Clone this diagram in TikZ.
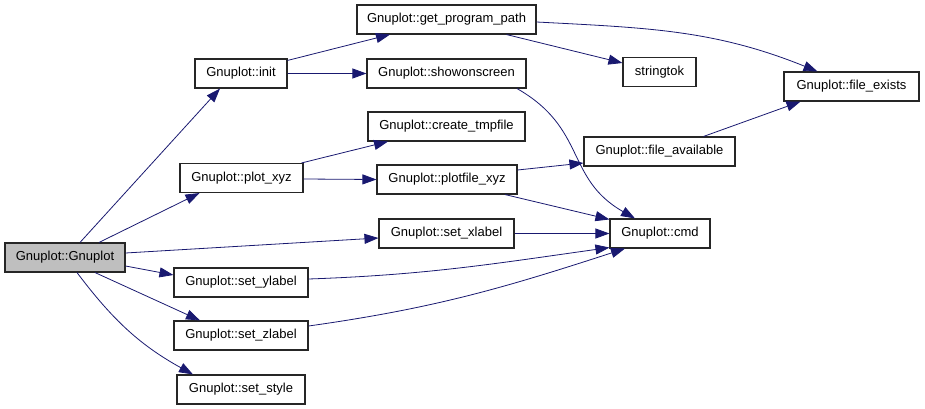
\documentclass[tikz,border=0pt]{standalone}
\usepackage{fontspec}
\setmainfont{Liberation Sans}
\usetikzlibrary{arrows.meta}

\definecolor{callblue}{HTML}{191970}
\definecolor{rootgray}{HTML}{BFBFBF}

\begin{document}
\begin{tikzpicture}[x=1pt,y=1pt,
    fnbox/.style={draw=black!85,line width=1.1pt,fill=white,inner sep=0pt,
        minimum height=29pt,font=\fontsize{13}{15}\selectfont},
    call/.style={callblue,line width=0.8pt,-{Triangle[length=14pt,width=10pt]}}]
\useasboundingbox (0,0) rectangle (925,-409);

% left column
\node[fnbox,fill=rootgray,minimum width=120pt] (gnuplot) at (65,-257.5) {Gnuplot::Gnuplot};
\node[fnbox,minimum width=92pt] (init) at (241,-73.5) {Gnuplot::init};
\node[fnbox,minimum width=123pt] (plotxyz) at (241.5,-178) {Gnuplot::plot\_xyz};
\node[fnbox,minimum width=134pt] (setylabel) at (241,-282.5) {Gnuplot::set\_ylabel};
\node[fnbox,minimum width=134pt] (setzlabel) at (241,-335.5) {Gnuplot::set\_zlabel};
\node[fnbox,minimum width=128pt] (setstyle) at (241,-389.5) {Gnuplot::set\_style};

% middle column
\node[fnbox,minimum width=179pt] (getpath) at (446.5,-19.5) {Gnuplot::get\_program\_path};
\node[fnbox,minimum width=159pt] (showon) at (446.5,-73.5) {Gnuplot::showonscreen};
\node[fnbox,minimum width=157pt] (tmpfile) at (446.5,-126.5) {Gnuplot::create\_tmpfile};
\node[fnbox,minimum width=140pt] (plotfile) at (447,-179.5) {Gnuplot::plotfile\_xyz};
\node[fnbox,minimum width=135pt] (setxlabel) at (446.5,-233.5) {Gnuplot::set\_xlabel};

% right side
\node[fnbox,minimum width=73pt] (stringtok) at (659.5,-72) {stringtok};
\node[fnbox,minimum width=151pt] (fileavail) at (659.5,-151.5) {Gnuplot::file\_available};
\node[fnbox,minimum width=100pt] (cmd) at (660,-233.5) {Gnuplot::cmd};
\node[fnbox,minimum width=135pt] (fileexists) at (851.5,-86.5) {Gnuplot::file\_exists};

% calls from the constructor
\draw[call] ([xshift=15pt]gnuplot.north) -- ([xshift=-21pt]init.south);
\draw[call] ([xshift=34pt]gnuplot.north) -- ([xshift=-42pt]plotxyz.south);
\draw[call] ([yshift=4.5pt]gnuplot.east) -- ([yshift=-4.5pt]setxlabel.west);
\draw[call] ([yshift=-8.5pt]gnuplot.east) -- ([yshift=7.5pt]setylabel.west);
\draw[call] ([xshift=30pt]gnuplot.south) -- ([xshift=-41pt]setzlabel.north);
\draw[call] ([xshift=12pt]gnuplot.south) to[out=-53,in=151] ([xshift=-48pt]setstyle.north);

% init and plot_xyz
\draw[call] ([yshift=-2pt]init.north east) -- ([xshift=-56.5pt]getpath.south);
\draw[call] (init.east) -- (showon.west);
\draw[call] ([xshift=-2pt]plotxyz.north east) -- ([xshift=-58.5pt]tmpfile.south);
\draw[call] ([yshift=-1pt]plotxyz.east) -- (plotfile.west);

% further down the call chain
\draw[call] ([xshift=60pt]getpath.south) -- ([yshift=9pt]stringtok.west);
\draw[call] ([yshift=-2.5pt]getpath.east) to[out=-3,in=158] ([xshift=-34pt]fileexists.north);
\draw[call] ([xshift=70.5pt]showon.south) .. controls +(70,-40) and +(-70,40) .. ([xshift=-25pt]cmd.north);
\draw[call] ([yshift=9.5pt]plotfile.east) -- ([yshift=-11.5pt]fileavail.west);
\draw[call] ([xshift=58pt]plotfile.south) -- ([yshift=-1pt]cmd.north west);
\draw[call] ([xshift=44pt]fileavail.north) -- ([xshift=-51pt]fileexists.south);
\draw[call] (setxlabel.east) -- (cmd.west);
\draw[call] ([yshift=3.5pt]setylabel.east) to[out=2,in=-172] ([yshift=1pt]cmd.south west);
\draw[call] ([yshift=9.5pt]setzlabel.east) to[out=8,in=-162] ([xshift=-35pt]cmd.south);
\end{tikzpicture}
\end{document}
